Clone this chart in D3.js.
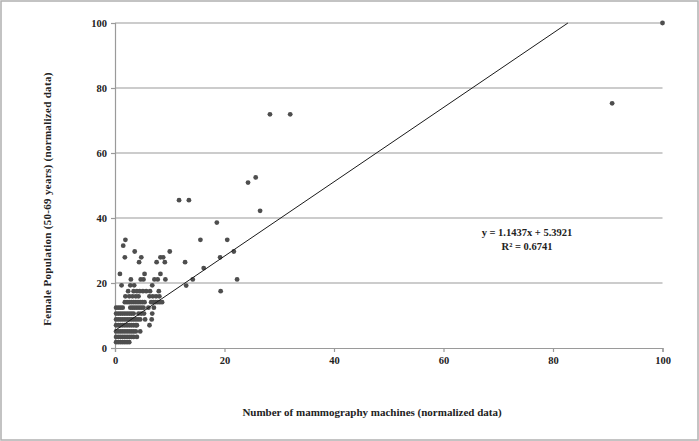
<!DOCTYPE html>
<html><head><meta charset="utf-8">
<script src="https://cdn.jsdelivr.net/npm/d3@7"></script>
<style>
html,body{margin:0;padding:0;background:#fff;}
text{font-family:"Liberation Serif","Times New Roman",serif;font-weight:bold;fill:#222;}
</style></head>
<body><svg id="c" width="699" height="441"></svg>
<script>
// Axis ticks
const xTicks = [0, 20, 40, 60, 80, 100];
const yTicks = [0, 20, 40, 60, 80, 100];
// Dense cluster rows: each y level with the x values observed
const clusterRowsY = [1.8, 3.4, 5.1, 7.0, 8.8, 10.6, 12.4, 14.1, 15.9, 17.5, 19.3, 21.1, 22.8, 26.4, 27.9, 29.7];
const clusterRowsX = [
  [0.2,0.6,1.0,1.4,1.8,2.2,2.6],
  [0.2,0.6,1.0,1.4,1.8,2.2,2.6,3.0,3.4,4.0],
  [0.2,0.6,1.0,1.4,1.8,2.2,2.6,3.0,3.4,3.8,4.6],
  [0.2,0.6,1.0,1.4,1.8,2.2,2.6,3.0,3.4,3.8,4.0,6.3],
  [0.2,0.6,1.0,1.4,1.8,2.2,2.6,3.0,3.4,3.8,4.2,4.6,5.5,6.7],
  [0.2,0.6,1.0,1.4,1.8,2.2,2.6,3.0,3.4,4.3,4.8,5.3,6.8],
  [0.2,0.6,1.0,1.4,2.8,3.2,3.6,4.0,4.4,4.8,5.2,6.1,7.1],
  [1.8,2.2,2.6,3.0,3.4,3.8,4.2,4.6,5.0,5.4,6.6,7.0,7.4,7.8,8.2,8.6],
  [1.9,2.6,3.2,3.8,4.3,6.3,6.9,7.5,8.1],
  [2.4,3.4,4.0,4.5,5.1,5.7,6.4,8.0],
  [1.2,2.8,3.5,6.8],
  [2.9,4.7,5.2,7.2,7.8,9.2],
  [0.9,5.4,8.3],
  [4.4,7.6,9.1],
  [1.8,4.8,8.3,8.8],
  [3.6,10.0,21.7]
];
// Scattered points
const sparseX = [1.5, 1.9, 13.0, 14.2, 12.8, 16.2, 19.2, 19.3, 22.3, 15.6, 20.5, 18.6, 11.7, 13.5, 26.5, 24.3, 25.7, 28.3, 32.0, 90.8, 100];
const sparseY = [31.5, 33.3, 19.2, 21.1, 26.4, 24.6, 27.9, 17.5, 21.1, 33.3, 33.3, 38.6, 45.5, 45.5, 42.2, 50.9, 52.5, 71.9, 71.9, 75.3, 100];
// Linear trend
const slope = 1.1437, intercept = 5.3921;
const eqLines = ["y = 1.1437x + 5.3921", "R² = 0.6741"];
const xTitle = "Number of mammography machines (normalized data)";
const yTitle = "Female Population (50-69 years) (normalized data)";

const points = [];
clusterRowsY.forEach((y, i) => clusterRowsX[i].forEach(x => points.push({x, y})));
sparseX.forEach((x, i) => points.push({x, y: sparseY[i]}));

const svg = d3.select("#c");
svg.append("rect").attr("x", 1).attr("y", 1).attr("width", 697).attr("height", 439)
  .attr("fill", "#fff").attr("stroke", "#b0b0b0").attr("stroke-width", 1.5);

const x = d3.scaleLinear().domain([0, 100]).range([115, 662.5]);
const y = d3.scaleLinear().domain([0, 100]).range([348, 23]);

// gridlines
svg.append("g").selectAll("line").data(yTicks.filter(d => d > 0)).join("line")
  .attr("x1", x(0)).attr("x2", x(100)).attr("y1", d => y(d)).attr("y2", d => y(d))
  .attr("stroke", "#bbbbbb").attr("stroke-width", 1.6);

const ax = svg.append("g").attr("transform", `translate(0,${y(0)})`)
  .call(d3.axisBottom(x).tickValues(xTicks).tickSize(4).tickPadding(5).tickFormat(d3.format("d")));
const ay = svg.append("g").attr("transform", `translate(${x(0)},0)`)
  .call(d3.axisLeft(y).tickValues(yTicks).tickSize(4).tickPadding(4).tickFormat(d3.format("d")));
[ax, ay].forEach(g => {
  g.selectAll("path,line").attr("stroke", "#9a9a9a").attr("stroke-width", 1.2);
  g.selectAll("text").style("font-family", "'Liberation Serif',serif").style("font-weight", "bold")
    .style("font-size", "10.5px").attr("fill", "#1a1a1a");
});

// points
svg.append("g").selectAll("circle").data(points).join("circle")
  .attr("cx", d => x(d.x)).attr("cy", d => y(d.y)).attr("r", 2.4).attr("fill", "#4e4e4e");

// trend line (drawn over the points)
const xEnd = (100 - intercept) / slope;
svg.append("line").attr("x1", x(0)).attr("y1", y(intercept)).attr("x2", x(xEnd)).attr("y2", y(100))
  .attr("stroke", "#1a1a1a").attr("stroke-width", 1);

// equation
svg.append("g").selectAll("text").data(eqLines).join("text")
  .attr("x", 527).attr("y", (d, i) => 236 + i * 13.5).attr("text-anchor", "middle")
  .style("font-size", "10.5px").text(d => d);

svg.append("text").attr("x", 372).attr("y", 416).attr("text-anchor", "middle")
  .style("font-size", "11px").text(xTitle);
svg.append("text").attr("transform", "translate(51,199) rotate(-90)").attr("text-anchor", "middle")
  .style("font-size", "11px").style("letter-spacing", "0.3px").text(yTitle);
</script></body></html>
